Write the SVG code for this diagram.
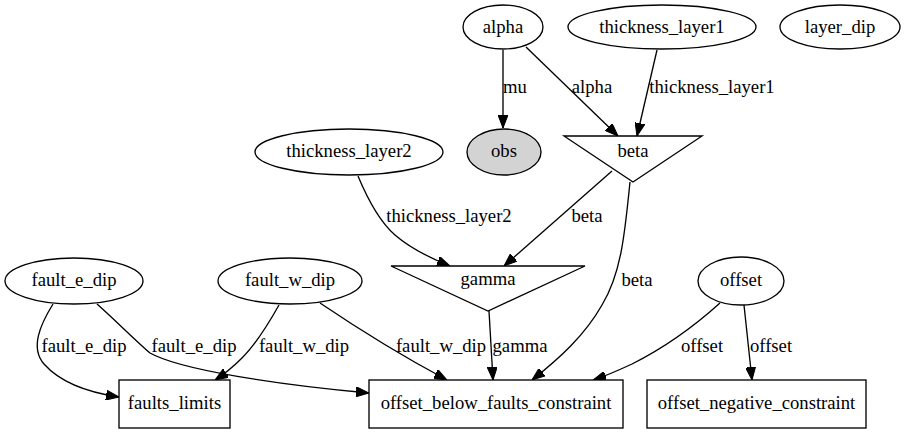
<svg xmlns="http://www.w3.org/2000/svg" width="904" height="433" viewBox="0 0 904 433">
<style>
.n ellipse,.n polygon,.n rect{fill:#fff;stroke:#000;stroke-width:1.33}
.n .obs{fill:#d3d3d3}
text{font-family:"Liberation Serif","Times New Roman",serif;font-size:18.67px;fill:#000}
.n text{text-anchor:middle}
.e path{fill:none;stroke:#000;stroke-width:1.33;marker-end:url(#ah)}
.e text{text-anchor:middle}
</style>
<defs>
<marker id="ah" viewBox="0 0 13 10" refX="13" refY="5" markerWidth="13" markerHeight="10" markerUnits="userSpaceOnUse" orient="auto">
<path d="M0,0 L13,5 L0,10 z" fill="#000" stroke="#000" stroke-width="1"/>
</marker>
</defs>
<rect width="904" height="433" fill="#fff"/>
<g class="e" id="edges">
<path d="M503,50 L503,128"/>
<text x="515" y="93">mu</text>
<path d="M526,47 L618,136"/>
<text x="592" y="93">alpha</text>
<path d="M657,50 L637,136"/>
<text x="712" y="93">thickness_layer1</text>
<path d="M358,176 C368,200 380,222 395,235 C410,248 430,258 450,266"/>
<text x="449" y="222">thickness_layer2</text>
<path d="M612,171 L504,266"/>
<text x="587" y="222">beta</text>
<path d="M630,182 C625,230 622,272 602,305 C585,335 560,358 532,380"/>
<text x="637" y="286">beta</text>
<path d="M489,311 L493,380"/>
<text x="520" y="352">gamma</text>
<path d="M53,304 C40,325 30,348 44,364 C60,382 85,392 119,397"/>
<text x="84" y="352">fault_e_dip</text>
<path d="M97,304 C115,320 135,340 150,353 C180,370 280,385 369,393"/>
<text x="194" y="352">fault_e_dip</text>
<path d="M279,305 C265,330 252,348 242,358 C233,367 226,373 215,380"/>
<text x="304" y="352">fault_w_dip</text>
<path d="M320,303 C360,330 402,356 447,380"/>
<text x="441" y="352">fault_w_dip</text>
<path d="M720,303 C690,330 660,350 632,364 C617,371 606,376 593,380"/>
<text x="702" y="352">offset</text>
<path d="M744,305 L752,380"/>
<text x="771" y="352">offset</text>
</g>
<g class="n" id="alpha"><ellipse cx="503" cy="27" rx="40" ry="22"/><text x="503" y="33">alpha</text></g>
<g class="n" id="thickness_layer1"><ellipse cx="662" cy="27" rx="94" ry="22"/><text x="662" y="33">thickness_layer1</text></g>
<g class="n" id="layer_dip"><ellipse cx="840" cy="27" rx="60" ry="22"/><text x="840" y="33">layer_dip</text></g>
<g class="n" id="obs"><ellipse class="obs" cx="504" cy="152" rx="37" ry="23"/><text x="504" y="157">obs</text></g>
<g class="n" id="beta"><polygon points="564,136 702,136 633,182"/><text x="633" y="157">beta</text></g>
<g class="n" id="thickness_layer2"><ellipse cx="349" cy="152" rx="94" ry="23"/><text x="349" y="157">thickness_layer2</text></g>
<g class="n" id="gamma"><polygon points="391,266 585,266 488,311"/><text x="488" y="285">gamma</text></g>
<g class="n" id="fault_e_dip"><ellipse cx="74" cy="281" rx="69" ry="23"/><text x="74" y="286">fault_e_dip</text></g>
<g class="n" id="fault_w_dip"><ellipse cx="290" cy="281" rx="72" ry="23"/><text x="290" y="286">fault_w_dip</text></g>
<g class="n" id="offset"><ellipse cx="741" cy="281" rx="43" ry="24"/><text x="741" y="286">offset</text></g>
<g class="n" id="faults_limits"><rect x="119" y="380" width="111" height="48"/><text x="174.5" y="409">faults_limits</text></g>
<g class="n" id="offset_below_faults_constraint"><rect x="369" y="380" width="254" height="48"/><text x="496" y="409">offset_below_faults_constraint</text></g>
<g class="n" id="offset_negative_constraint"><rect x="647" y="380" width="219" height="48"/><text x="756.5" y="409">offset_negative_constraint</text></g>
</svg>
